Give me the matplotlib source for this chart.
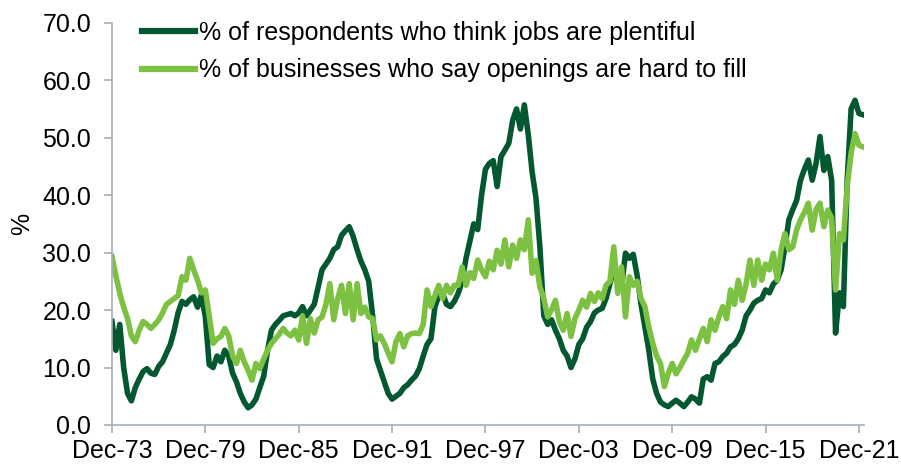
import numpy as np
import pandas as pd
import matplotlib
matplotlib.use("Agg")
import matplotlib.pyplot as plt
import matplotlib.dates as mdates

plt.rcParams['font.family'] = ['Liberation Sans', 'DejaVu Sans']

# quarterly readings, Dec-73 .. Mar-22
dates = pd.date_range('1973-12-01', periods=194, freq='3MS')

jobs_plentiful = [
    18.0,
    13.0, 17.5, 10.0, 5.5,
    4.2, 6.5, 8.0, 9.3,
    9.8, 9.0, 8.8, 10.2,
    11.0, 12.5, 14.0, 16.5,
    19.5, 21.5, 21.0, 21.8,
    22.3, 20.5, 22.6, 18.8,
    10.5, 10.0, 12.0, 11.0,
    13.0, 12.0, 9.0, 7.5,
    5.5, 4.0, 3.0, 3.5,
    4.5, 6.5, 8.5, 13.0,
    16.5, 17.5, 18.2, 19.0,
    19.2, 19.4, 19.0, 19.5,
    20.6, 19.0, 20.0, 21.0,
    24.0, 27.0, 28.0, 29.0,
    30.5, 31.0, 33.0, 33.8,
    34.5, 32.8, 30.5, 28.5,
    27.0, 25.0, 19.0, 11.5,
    9.5, 7.5, 5.5, 4.5,
    5.0, 5.5, 6.5, 7.0,
    7.8, 8.5, 9.8, 12.0,
    14.0, 15.0, 20.5, 22.5,
    22.9, 21.0, 20.6, 21.5,
    22.9, 25.0, 29.0, 32.0,
    35.0, 34.0, 40.0, 44.5,
    45.5, 46.0, 41.5, 46.7,
    47.8, 49.0, 53.0, 55.0,
    51.5, 55.7, 50.5, 44.0,
    39.5, 31.0, 19.0, 17.5,
    18.3, 16.5, 15.0, 13.0,
    12.0, 10.0, 11.5, 14.0,
    15.0, 17.0, 18.0, 19.5,
    20.0, 20.3, 22.0, 24.6,
    27.0, 26.0, 24.0, 29.9,
    29.0, 29.7, 26.0, 21.0,
    17.0, 13.0, 8.0, 5.5,
    4.0, 3.5, 3.2, 3.8,
    4.3, 3.8, 3.2, 4.0,
    4.9, 4.5, 3.8, 8.0,
    8.4, 7.8, 10.7, 11.0,
    11.9, 12.5, 13.6, 14.0,
    15.0, 16.5, 19.0, 20.0,
    21.2, 21.7, 22.0, 23.5,
    23.0, 24.5, 25.2, 27.0,
    31.0, 35.7, 37.5, 39.1,
    42.6, 44.5, 46.1, 42.6,
    45.5, 50.2, 44.3, 46.7,
    42.6, 16.0, 23.0, 20.6,
    42.6, 55.0, 56.5, 54.2,
    54.0,
]

hard_to_fill = [
    29.3,
    26.0, 22.9, 20.5, 18.5,
    15.5, 14.5, 16.5, 18.0,
    17.5, 16.8, 17.5, 18.3,
    19.5, 21.0, 21.5, 22.0,
    22.5, 25.8, 25.2, 29.0,
    27.0, 25.2, 23.0, 23.5,
    19.0, 14.2, 15.0, 15.4,
    16.8, 15.5, 12.0, 10.7,
    13.0, 11.0, 9.5, 7.8,
    10.7, 9.8, 11.5, 13.0,
    14.2, 15.0, 15.8, 16.8,
    16.0, 15.5, 16.5, 14.8,
    19.0, 14.2, 18.5, 16.0,
    18.3, 18.8, 21.0, 24.6,
    18.3, 22.0, 24.3, 19.4,
    24.6, 18.3, 24.6, 19.4,
    20.5, 18.8, 18.5, 14.8,
    15.5, 14.2, 12.5, 11.0,
    14.5, 15.9, 13.6, 15.5,
    15.9, 16.0, 15.9, 17.5,
    23.5, 20.6, 22.5, 24.3,
    22.0, 24.3, 23.0, 24.3,
    24.3, 27.5, 24.3, 26.5,
    25.5, 28.7, 27.0, 25.8,
    28.5, 27.0, 30.4, 28.0,
    32.2, 27.5, 31.3, 29.0,
    32.2, 30.5, 35.7, 26.4,
    28.6, 24.0, 22.0, 18.8,
    20.0, 21.7, 18.0, 16.5,
    19.4, 15.4, 18.5, 20.0,
    21.7, 20.5, 22.9, 21.5,
    23.0, 22.0, 24.3, 25.0,
    31.0, 22.9, 27.5, 18.8,
    25.8, 24.3, 25.0, 22.0,
    20.6, 17.0, 14.2, 12.0,
    10.7, 6.7, 9.0, 10.7,
    8.9, 10.0, 11.3, 12.5,
    14.8, 13.0, 15.0, 16.8,
    14.5, 18.3, 16.5, 18.8,
    20.6, 18.5, 23.5, 21.0,
    25.2, 21.7, 24.5, 28.7,
    24.3, 28.7, 25.2, 28.0,
    27.0, 29.9, 25.2, 30.5,
    33.3, 30.5, 31.0, 34.0,
    35.7, 37.0, 38.6, 33.9,
    37.5, 38.6, 34.5, 37.4,
    36.0, 23.5, 33.3, 32.2,
    41.5, 47.3, 50.7, 48.7,
    48.4,
]

labels = ['% of respondents who think jobs are plentiful',
          '% of businesses who say openings are hard to fill']
tick_years = [1973, 1979, 1985, 1991, 1997, 2003, 2009, 2015, 2021]

fig = plt.figure(figsize=(9.01, 4.66), dpi=100)
ax = fig.add_axes([0.1243, 0.088, 0.959 - 0.1243, 0.9513 - 0.088])

ax.plot(dates, jobs_plentiful, color='#03582F', lw=4.0, label=labels[0],
        solid_joinstyle='round')
ax.plot(dates, hard_to_fill, color='#7CC142', lw=4.0, label=labels[1],
        solid_joinstyle='round')

ax.set_ylim(0, 70)
ax.set_yticks(np.arange(0, 71, 10))
ax.yaxis.set_major_formatter(matplotlib.ticker.FormatStrFormatter('%.1f'))
ax.set_xlim(pd.Timestamp('1973-12-01'), pd.Timestamp('2022-04-01'))
ax.set_xticks([pd.Timestamp(f'{y}-12-01') for y in tick_years])
ax.xaxis.set_major_formatter(mdates.DateFormatter('%b-%y'))
ax.set_ylabel('%', fontsize=18, labelpad=6)

for s in ['top', 'right']:
    ax.spines[s].set_visible(False)
for s in ['left', 'bottom']:
    ax.spines[s].set_color('#A6AEB6')
    ax.spines[s].set_linewidth(1.2)
ax.tick_params(axis='both', colors='#A6AEB6', length=6, width=1.2,
               labelsize=18, labelcolor='black')
ax.tick_params(axis='x', pad=4)
ax.tick_params(axis='y', pad=9)

leg = ax.legend(loc='upper left', bbox_to_anchor=(0.027, 1.03), frameon=False,
                fontsize=18, handlelength=2.1, handletextpad=0.15,
                labelspacing=0.55, borderaxespad=0)
for line in leg.get_lines():
    line.set_linewidth(4.5)

fig.savefig('out.png', dpi=100)
